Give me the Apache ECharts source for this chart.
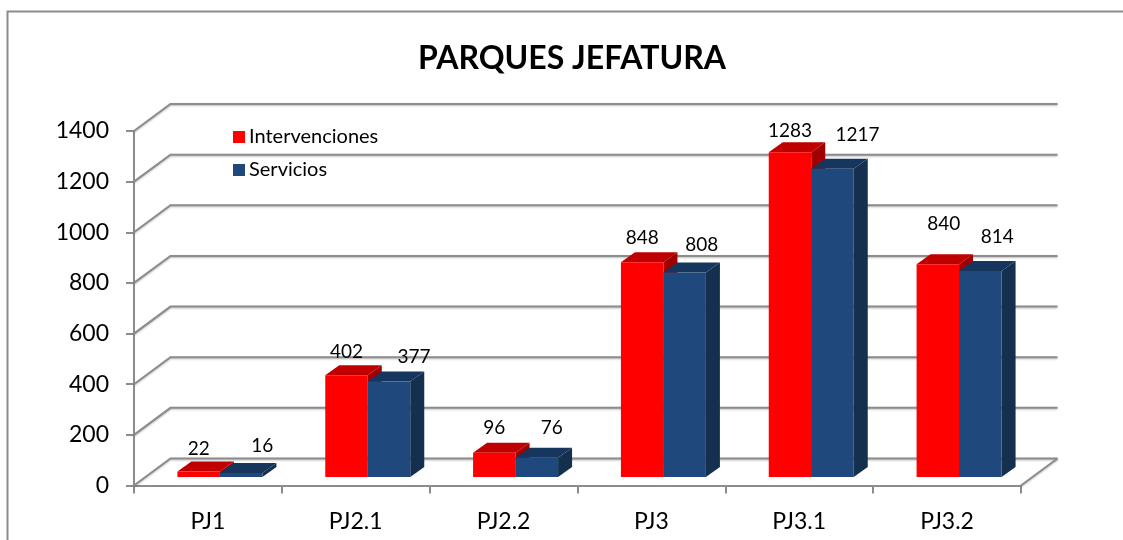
<!DOCTYPE html>
<html>
<head>
<meta charset="utf-8">
<style>html,body{margin:0;padding:0;background:#fff}#main{width:1123px;height:540px}</style>
<script src="https://cdn.jsdelivr.net/npm/echarts@6/dist/echarts.min.js"></script>
</head>
<body>
<div id="main"></div>
<script>
var categories = ['PJ1', 'PJ2.1', 'PJ2.2', 'PJ3', 'PJ3.1', 'PJ3.2'];
var intervenciones = [22, 402, 96, 848, 1283, 840];
var servicios = [16, 377, 76, 808, 1217, 814];
var yTicks = [0, 200, 400, 600, 800, 1000, 1200, 1400];

// hand placed labels in the original, offset from the bar front top [x, y]
var redLabelNudge = [[0, -23], [0, -23], [0, -25], [0, -24], [0, -21], [6, -40]];
var blueLabelNudge = [[21, -27], [25, -25], [15, -30], [17, -28], [25, -34], [17, -34]];

var FONT = 'Lato';
var GRID = '#8c8c8c';
var WALL_DX = 36.5, WALL_DY = -27; // depth of the floor
var BAR_DX = 14, BAR_DY = -10;     // depth of a bar
var BAR_W = 42.5;
var IN_DX = 12, IN_DY = -8.5;      // bars stand inside the floor

function gridLineStyle() {
  return {
    stroke: GRID, lineWidth: 2, fill: null,
    shadowColor: 'rgba(0,0,0,0.25)', shadowBlur: 2, shadowOffsetY: 1
  };
}

function renderWall(params, api) {
  var band = api.size([1, 0])[0];
  var p0 = api.coord([0, api.value(0)]);
  var p1 = api.coord([categories.length - 1, api.value(0)]);
  var left = p0[0] - band / 2;
  var right = p1[0] + band / 2;
  var y = p0[1];
  var children = [{
    type: 'polyline',
    shape: { points: [[left, y], [left + WALL_DX, y + WALL_DY], [right + WALL_DX, y + WALL_DY]] },
    style: gridLineStyle()
  }];
  if (api.value(0) === 0) {
    children.push({
      type: 'line',
      shape: { x1: right, y1: y, x2: right + WALL_DX, y2: y + WALL_DY },
      style: gridLineStyle()
    });
  }
  return { type: 'group', children: children };
}

function barRenderer(side, front, top, right, nudge) {
  return function (params, api) {
    var i = api.value(0);
    var base = api.coord([i, 0]);
    var head = api.coord([i, api.value(1)]);
    var x0 = base[0] + IN_DX + (side < 0 ? -BAR_W : 0);
    var x1 = x0 + BAR_W;
    var yb = base[1] + IN_DY;
    var yt = head[1] + IN_DY;
    var n = nudge[i];
    return {
      type: 'group',
      children: [
        { type: 'polygon', shape: { points: [[x1, yb], [x1 + BAR_DX, yb + BAR_DY], [x1 + BAR_DX, yt + BAR_DY], [x1, yt]] }, style: { fill: right } },
        { type: 'polygon', shape: { points: [[x0, yt], [x0 + BAR_DX, yt + BAR_DY], [x1 + BAR_DX, yt + BAR_DY], [x1, yt]] }, style: { fill: top } },
        { type: 'rect', shape: { x: x0, y: yt, width: BAR_W, height: yb - yt }, style: { fill: front } },
        {
          type: 'text',
          style: {
            text: String(api.value(1)),
            x: x0 + BAR_W / 2 + n[0], y: yt + n[1],
            align: 'center', verticalAlign: 'middle',
            font: '19px ' + FONT, fill: '#000'
          }
        }
      ]
    };
  };
}

var myChart = echarts.init(document.getElementById('main'));
var option = {
  backgroundColor: '#fff',
  animation: false,
  title: {
    text: 'PARQUES JEFATURA',
    left: 413,
    top: 38,
    textStyle: { fontFamily: FONT, fontSize: 32, fontWeight: 'bold', color: '#000' }
  },
  legend: {
    data: ['Intervenciones', 'Servicios'],
    orient: 'vertical',
    left: 228,
    top: 122,
    itemWidth: 12,
    itemHeight: 12,
    itemGap: 13,
    icon: 'rect',
    selectedMode: false,
    textStyle: { fontFamily: FONT, fontSize: 20, color: '#000', padding: [0, 0, 0, -1] }
  },
  grid: { left: 134, right: 102, top: 131, bottom: 54.5 },
  xAxis: {
    type: 'category',
    data: categories,
    axisLine: { lineStyle: { color: GRID, width: 2 } },
    axisTick: { show: true, length: 8, lineStyle: { color: GRID, width: 2 } },
    axisLabel: { fontFamily: FONT, fontSize: 23, color: '#000', margin: 25 }
  },
  yAxis: {
    type: 'value',
    min: 0,
    max: 1400,
    interval: 200,
    splitLine: { show: false },
    axisLine: { show: true, lineStyle: { color: GRID, width: 2 } },
    axisTick: { show: true, length: 8, lineStyle: { color: GRID, width: 2 } },
    axisLabel: {
      fontFamily: FONT, fontSize: 23, color: '#000', margin: 25,
      formatter: function (v) { return String(v); }
    }
  },
  graphic: [{
    type: 'polyline',
    shape: { points: [[7.5, 540], [7.5, 11.5], [1123, 11.5]] },
    style: { stroke: GRID, lineWidth: 2, fill: null },
    silent: true
  }],
  series: [
    {
      name: 'walls',
      type: 'custom',
      z: 1,
      silent: true,
      renderItem: renderWall,
      data: yTicks.map(function (v) { return [v]; })
    },
    {
      name: 'Intervenciones',
      type: 'custom',
      z: 2,
      itemStyle: { color: '#ff0000' },
      renderItem: barRenderer(-1, '#ff0000', '#c00000', '#a00000', redLabelNudge),
      data: intervenciones.map(function (v, i) { return [i, v]; })
    },
    {
      name: 'Servicios',
      type: 'custom',
      z: 3,
      itemStyle: { color: '#1f497d' },
      renderItem: barRenderer(1, '#1f497d', '#17365d', '#152f4f', blueLabelNudge),
      data: servicios.map(function (v, i) { return [i, v]; })
    }
  ]
};
myChart.setOption(option);
</script>
</body>
</html>
